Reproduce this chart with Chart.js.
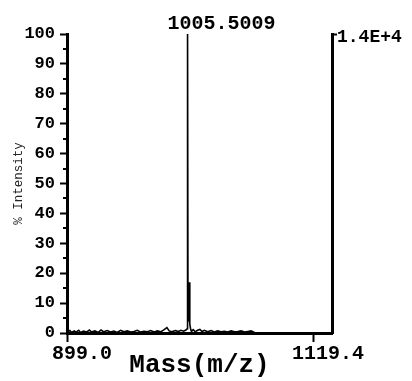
<!DOCTYPE html>
<html>
<head>
<meta charset="utf-8">
<script src="https://cdn.jsdelivr.net/npm/chart.js@4.4.1/dist/chart.umd.min.js"></script>
<style>
  body { margin: 0; background: #fff; }
  canvas { display: block; }
</style>
</head>
<body>
<canvas id="spectrum" width="412" height="381"></canvas>
<script>
// spectrum profile (m/z, % intensity)
const mz = [899.0, 901.5, 903.0, 905.5, 907.0, 909.5, 911.0, 914.0, 916.5, 919.0,
  921.0, 924.0, 927.0, 929.5, 932.0, 935.0, 938.0, 941.0, 944.0, 947.0,
  950.0, 953.0, 956.0, 959.0, 962.0, 965.0, 968.0, 971.0, 974.0, 977.0,
  980.0, 983.0, 986.0, 988.5, 990.5, 993.0, 996.0, 999.0, 1001.0, 1003.5,
  1005.5, 1006.6, 1007.0, 1007.4, 1008.2, 1008.6, 1009.0, 1009.6, 1010.5, 1012.0,
  1014.0, 1016.0, 1018.0, 1020.0, 1022.0, 1025.0, 1028.0, 1031.0, 1034.0, 1037.0,
  1040.0, 1043.0, 1046.0, 1049.0, 1052.0, 1055.0, 1058.0, 1061.0, 1064.0, 1067.0,
  1069.0, 1136.4];
const intensity = [0.3, 0.8, 0.2, 0.7, 0.3, 0.9, 0.2, 0.6, 0.3, 1.0,
  0.3, 0.7, 0.2, 1.0, 0.4, 0.8, 0.3, 0.6, 0.2, 0.9,
  0.4, 0.7, 0.3, 0.5, 0.9, 0.3, 0.6, 0.4, 0.8, 0.3,
  0.7, 0.4, 1.1, 1.8, 0.7, 0.4, 0.8, 0.5, 0.9, 0.6,
  1.0, 1.4, 100, 4, 6, 17, 3, 1.6, 0.5, 1.1,
  0.4, 0.9, 1.2, 0.5, 0.9, 0.4, 0.8, 0.3, 0.7, 0.4,
  0.6, 0.3, 0.7, 0.4, 0.5, 0.7, 0.3, 0.5, 0.7, 0.2,
  0, 0];

const peakMz = 1007.0;
const peakLabel = '1005.5009';
const xTicks = [899.0, 1119.4];
const yMinorTicks = [5, 15, 25, 35, 45, 55, 65, 75, 85, 95];
const rightLabel = '1.4E+4';

const monoBold = (size) => ({ family: 'Liberation Mono', size: size, weight: 'bold', lineHeight: 1 });

const annotations = {
  id: 'annotations',
  afterDraw(chart) {
    const c = chart.ctx;
    const x = chart.scales.x;
    const y = chart.scales.y;
    c.save();
    // minor ticks on the left axis
    c.strokeStyle = '#000';
    c.lineWidth = 2;
    yMinorTicks.forEach(v => {
      const py = Math.round(y.getPixelForValue(v));
      c.beginPath();
      c.moveTo(chart.chartArea.left - 4, py);
      c.lineTo(chart.chartArea.left, py);
      c.stroke();
    });
    // label of the base peak
    c.fillStyle = '#000';
    c.font = 'bold 20px "Liberation Mono"';
    c.textAlign = 'left';
    c.textBaseline = 'middle';
    c.fillText(peakLabel, x.getPixelForValue(peakMz) - 20, chart.chartArea.top - 10);
    c.restore();
  }
};

new Chart(document.getElementById('spectrum'), {
  type: 'line',
  data: {
    datasets: [{
      data: mz.map((m, i) => ({ x: m, y: intensity[i] })),
      borderColor: '#000',
      borderWidth: 1.6,
      pointRadius: 0,
      tension: 0,
      fill: false
    }]
  },
  options: {
    responsive: false,
    animation: false,
    devicePixelRatio: 1,
    layout: { padding: { top: 34, right: 0, bottom: 0, left: 0 } },
    plugins: { legend: { display: false }, tooltip: { enabled: false } },
    scales: {
      x: {
        type: 'linear',
        min: 899.0,
        max: 1136.4,
        afterBuildTicks: (scale) => { scale.ticks = xTicks.map(v => ({ value: v })); },
        afterFit: (scale) => { scale.height = 48; },
        border: { display: true, color: '#000', width: 3 },
        grid: { drawOnChartArea: false, color: '#000', tickLength: 9, tickWidth: 2 },
        ticks: {
          color: '#000',
          font: monoBold(20),
          padding: 2,
          labelOffset: 15,
          maxRotation: 0,
          callback: (v) => Number(v).toFixed(1)
        },
        title: {
          display: true,
          text: 'Mass(m/z)',
          color: '#000',
          font: monoBold(26),
          padding: { top: 0, bottom: 3 }
        }
      },
      y: {
        position: 'left',
        min: 0,
        max: 100,
        afterFit: (scale) => { scale.width = 67; },
        border: { display: true, color: '#000', width: 3 },
        grid: { drawOnChartArea: false, color: '#000', tickLength: 7, tickWidth: 2 },
        ticks: {
          stepSize: 10,
          color: '#000',
          font: monoBold(17),
          padding: 5
        },
        title: {
          display: true,
          text: '% Intensity',
          color: '#222',
          font: { family: 'Liberation Mono', size: 12.5, lineHeight: 1.2 },
          padding: { top: 11, bottom: 0 }
        }
      },
      y2: {
        position: 'right',
        min: 0,
        max: 100,
        afterBuildTicks: (scale) => { scale.ticks = [{ value: 100 }]; },
        afterFit: (scale) => { scale.width = 80; },
        border: { display: true, color: '#000', width: 3 },
        grid: { drawOnChartArea: false, color: '#000', tickLength: 5, tickWidth: 2 },
        ticks: {
          color: '#000',
          font: monoBold(18),
          padding: 0,
          labelOffset: 3,
          callback: () => rightLabel
        }
      }
    }
  },
  plugins: [annotations]
});
</script>
</body>
</html>
